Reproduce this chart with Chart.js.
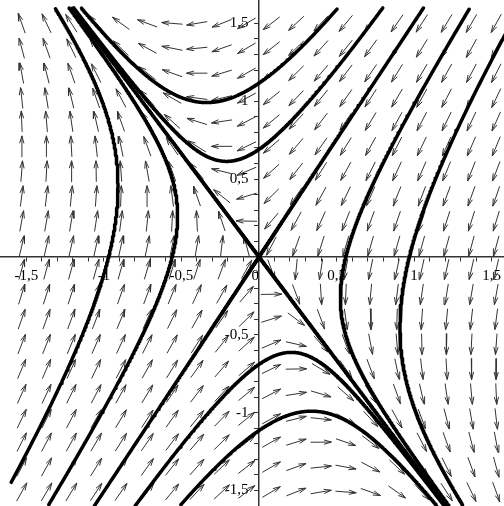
<!DOCTYPE html>
<html>
<head>
<meta charset="utf-8">
<script src="https://cdn.jsdelivr.net/npm/chart.js@4.4.1/dist/chart.umd.min.js"></script>
<style>
  html, body { margin: 0; padding: 0; background: #fff; }
  canvas { display: block; }
</style>
</head>
<body>
<canvas id="phase" width="504" height="506"></canvas>
<script>
// visible window
const xRange = [-1.67, 1.58];
const yRange = [-1.60, 1.65];

// x' = a x + b y,  y' = c x + d y  (fitted to the nullclines and separatrices)
const systemMatrix = [[-0.5, -1.0], [-2.0, -0.68]];

// direction field grid
const arrowCols = [-1.53, -1.37, -1.21, -1.05, -0.89, -0.72, -0.56, -0.40, -0.24, -0.08,
                   0.08, 0.24, 0.40, 0.56, 0.72, 0.89, 1.05, 1.21, 1.37, 1.53];
const arrowRows = [1.50, 1.34, 1.18, 1.02, 0.87, 0.71, 0.55, 0.39, 0.23, 0.07,
                   -0.08, -0.24, -0.40, -0.56, -0.72, -0.88, -1.04, -1.19, -1.35, -1.51];

// initial points of the solution curves (axis crossings)
const orbitStarts = [[0, 1.115], [0, 0.69], [0, -0.69], [0, -1.115],
                     [-0.97, 0], [-0.56, 0], [0.56, 0], [0.97, 0]];

const tickLabels = [-1.5, -1, -0.5, 0, 0.5, 1, 1.5];
const traceLimit = 1.6;

const arrowLen = 0.135, headLen = 0.05, headAngle = 16 * Math.PI / 180;

function field(p) {
  const [[a, b], [c, d]] = systemMatrix;
  return [a * p[0] + b * p[1], c * p[0] + d * p[1]];
}

function rk4(p, h) {
  const k1 = field(p);
  const k2 = field([p[0] + h / 2 * k1[0], p[1] + h / 2 * k1[1]]);
  const k3 = field([p[0] + h / 2 * k2[0], p[1] + h / 2 * k2[1]]);
  const k4 = field([p[0] + h * k3[0], p[1] + h * k3[1]]);
  return [p[0] + h / 6 * (k1[0] + 2 * k2[0] + 2 * k3[0] + k4[0]),
          p[1] + h / 6 * (k1[1] + 2 * k2[1] + 2 * k3[1] + k4[1])];
}

function trace(start, dir, stopNearOrigin) {
  const pts = [];
  let p = start.slice();
  for (let i = 0; i < 8000; i++) {
    const q = rk4(p, 0.004 * dir);
    if (Math.abs(q[0]) > traceLimit || Math.abs(q[1]) > traceLimit) break;
    pts.push(q);
    if (stopNearOrigin && Math.hypot(q[0], q[1]) < 0.002) break;
    p = q;
  }
  return pts;
}

const toXY = pts => pts.map(p => ({ x: p[0], y: p[1] }));

function orbit(start) {
  return toXY(trace(start, -1, false).reverse().concat([start], trace(start, 1, true)));
}

// separatrices: eigen-directions of the matrix
function eigenSlopes() {
  const [[a, b], [c, d]] = systemMatrix;
  const disc = Math.sqrt((a - d) * (a - d) + 4 * b * c);
  return [(-(a - d) + disc) / (2 * b), (-(a - d) - disc) / (2 * b)];
}

const curves = orbitStarts.map(orbit);
eigenSlopes().forEach(m => {
  const [[a, b]] = systemMatrix;
  const lambda = a + b * m;
  if (lambda < 0) {
    // stable: comes in from the edge to the saddle
    const s = traceLimit / Math.max(1, Math.abs(m)) * 0.999;
    [1, -1].forEach(sg => curves.push(toXY([[sg * s, sg * s * m]].concat(trace([sg * s, sg * s * m], 1, true)))));
  } else {
    // unstable: leaves the saddle
    [1, -1].forEach(sg => curves.push(toXY([[0, 0]].concat(trace([sg * 0.001, sg * 0.001 * m], 1, false)))));
  }
});

const arrowData = [];
arrowRows.forEach(y => arrowCols.forEach(x => {
  const f = field([x, y]);
  const n = Math.hypot(f[0], f[1]) || 1;
  const ux = f[0] / n, uy = f[1] / n;
  const tail = { x: x - ux * arrowLen / 2, y: y - uy * arrowLen / 2 };
  const tip = { x: x + ux * arrowLen / 2, y: y + uy * arrowLen / 2 };
  const ang = Math.atan2(uy, ux);
  const h1 = { x: tip.x - headLen * Math.cos(ang - headAngle), y: tip.y - headLen * Math.sin(ang - headAngle) };
  const h2 = { x: tip.x - headLen * Math.cos(ang + headAngle), y: tip.y - headLen * Math.sin(ang + headAngle) };
  arrowData.push(tail, tip, h1, { x: x, y: null }, tip, h2, { x: x, y: null });
}));

const fmt = v => {
  const r = Math.round(v * 100) / 100;
  return tickLabels.includes(r) ? String(r).replace('.', ',') : '';
};
const keepTicks = axis => { axis.ticks = axis.ticks.filter(t => Math.abs(t.value) <= 1.5001); };
// centred axes should not shrink the plot area
const noPad = axis => { axis.paddingTop = 0; axis.paddingBottom = 0; axis.paddingLeft = 0; axis.paddingRight = 0; };
const tickFont = { family: '"Liberation Serif", "DejaVu Serif", serif', size: 15 };

const datasets = curves.map(c => ({
  data: c, borderColor: '#000', borderWidth: 3.5, pointRadius: 0, showLine: true,
  borderCapStyle: 'round', borderJoinStyle: 'round', tension: 0
}));
datasets.push({
  data: arrowData, borderColor: '#333', borderWidth: 1, pointRadius: 0, showLine: true,
  borderJoinStyle: 'round', spanGaps: false, tension: 0
});

new Chart(document.getElementById('phase'), {
  type: 'scatter',
  data: { datasets },
  options: {
    responsive: false,
    animation: false,
    layout: { padding: 0 },
    plugins: { legend: { display: false }, tooltip: { enabled: false } },
    scales: {
      x: {
        type: 'linear', min: xRange[0], max: xRange[1], position: { y: 0 },
        afterBuildTicks: keepTicks, afterFit: noPad,
        grid: { drawOnChartArea: false, drawTicks: true, tickLength: 4, color: '#333' },
        border: { display: true, color: '#333', width: 1.5 },
        ticks: { stepSize: 0.1, autoSkip: false, maxRotation: 0, includeBounds: false,
                 color: '#000', font: tickFont, padding: 6,
                 callback: v => (Math.abs(v) < 1e-9 ? '0\u2002' : fmt(v)) }
      },
      y: {
        type: 'linear', min: yRange[0], max: yRange[1], position: { x: 0 },
        afterBuildTicks: keepTicks, afterFit: noPad,
        grid: { drawOnChartArea: false, drawTicks: true, tickLength: 4, color: '#333' },
        border: { display: true, color: '#333', width: 1.5 },
        ticks: { stepSize: 0.1, autoSkip: false, includeBounds: false, color: '#000', font: tickFont,
                 callback: v => (Math.abs(v) < 1e-9 ? '' : (fmt(v) ? fmt(v) + '\u2002\u2009' : '')) }
      }
    }
  }
});
</script>
</body>
</html>
